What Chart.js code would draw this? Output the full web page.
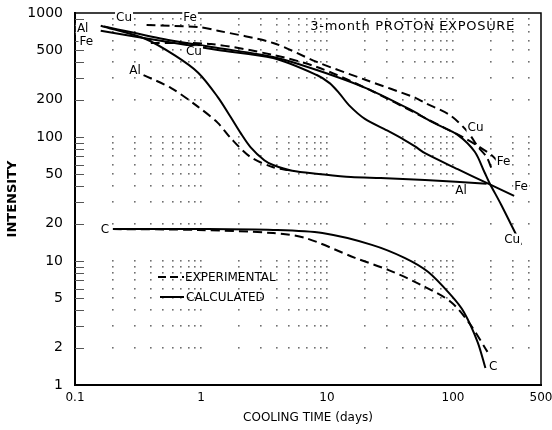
<!DOCTYPE html>
<html>
<head>
<meta charset="utf-8">
<script src="https://cdn.jsdelivr.net/npm/chart.js@4.4.1/dist/chart.umd.min.js"></script>
<style>
  html, body { margin: 0; padding: 0; background: #fff; }
  #wrap { width: 552px; height: 430px; }
</style>
</head>
<body>
<div id="wrap"><canvas id="c" width="552" height="430"></canvas></div>
<script>
// ---- Data ----
const alCalcX = [0.16, 0.36, 0.62, 0.95, 1.36, 1.72, 2.06, 2.47, 3.18, 3.74, 5.3, 8.6, 15.5, 26.7, 60, 185];
const alCalcY = [790, 620, 455, 330, 210, 145, 108, 83, 65, 59.5, 53.4, 50.4, 47.5, 46.6, 45, 42];

const alExpX = [0.35, 0.58, 0.95, 1.36, 1.72, 2.47, 3.74, 5.0];
const alExpY = [316, 248, 175, 130, 98, 69, 57, 54];

const cuCalcX = [0.17, 0.55, 1.36, 3.74, 8.3, 20.4, 50, 60, 76, 109, 149, 178, 195, 242, 348];
const cuCalcY = [780, 606, 522, 442, 347, 248, 159, 142, 125, 104, 76, 52, 42.6, 28.3, 13.5];

const cuExpX = [0.4, 1.2, 3.74, 8.3, 20.4, 60.3, 86.5, 124, 163, 202, 234];
const cuExpY = [573, 562, 459, 367, 248, 142, 118, 98, 83, 71.5, 61.7];

const feCalcX = [0.16, 0.55, 1.36, 3.74, 8.3, 10.5, 12.5, 15, 20, 30, 41, 50, 60, 109, 185, 306];
const feCalcY = [720, 583, 503, 433, 316, 272, 226, 180, 140, 113, 95, 84, 74, 55, 42.6, 33.5];

const feExpX = [0.37, 0.95, 1.36, 3.74, 8.3, 20.4, 50.4, 60.3, 94.7, 131, 157, 185, 202];
const feExpY = [800, 770, 720, 573, 403, 288, 207, 188, 150, 110, 84, 69, 56];

const cCalcX = [0.2, 0.95, 3.74, 9.2, 22.7, 41.3, 63.7, 96.4, 122, 157, 181];
const cCalcY = [18.1, 18.1, 17.8, 16.8, 13.5, 10.6, 8.15, 5.3, 3.88, 2.22, 1.37];

const cExpX = [0.2, 0.95, 3.74, 6.78, 16.7, 30.9, 56.1, 96.4, 138, 188];
const cExpY = [18.1, 17.8, 16.8, 15.3, 10.6, 8.45, 6.4, 4.67, 3.05, 1.85];

// tick values
const xTickValues = [0.1,0.2,0.3,0.4,0.5,0.6,0.7,0.8,0.9,1,2,3,4,5,6,7,8,9,10,20,30,40,50,60,70,80,90,100,200,300,400,500];
const xTickLabels = [0.1, 1, 10, 100, 500];
const yTickValues = [1,2,3,4,5,6,7,8,9,10,20,30,40,50,60,70,80,90,100,200,300,400,500,600,700,800,900,1000];
const yTickLabels = [1, 2, 5, 10, 20, 50, 100, 200, 500, 1000];

// curve labels (text, x value, y value)
const curveLabelText = ['Al','Cu','Fe','Fe','Cu','Al','Cu','Fe','Fe','Al','Cu','C','C'];
const curveLabelX    = [0.115, 0.245, 0.82, 0.123, 0.88, 0.30, 151, 252, 348, 116, 295, 0.173, 209];
const curveLabelY    = [743, 911, 911, 583, 484, 340, 118, 63, 39.6, 36.6, 14.9, 17.8, 1.4];

const titleText = '3-month PROTON EXPOSURE';
const legendText = ['EXPERIMENTAL', 'CALCULATED'];

// ---- helpers ----
const zip = (xs, ys) => xs.map((x, i) => ({ x: x, y: ys[i] }));
const near = (v, arr) => arr.some(a => Math.abs(v - a) / a < 1e-6);
const FONT = "'DejaVu Sans', 'Liberation Sans', sans-serif";

function ds(label, xs, ys, dashed) {
  return {
    label: label,
    data: zip(xs, ys),
    showLine: true,
    borderColor: '#000',
    backgroundColor: '#000',
    borderWidth: 2,
    borderDash: dashed ? [9, 5] : [],
    pointRadius: 0,
    tension: 0.3,
    fill: false
  };
}

const bgPlugin = {
  id: 'bg',
  beforeDraw(chart) {
    const ctx = chart.ctx;
    ctx.save();
    ctx.fillStyle = '#fff';
    ctx.fillRect(0, 0, chart.width, chart.height);
    ctx.restore();
  }
};

const gridDots = {
  id: 'gridDots',
  beforeDatasetsDraw(chart) {
    const ctx = chart.ctx, xs = chart.scales.x, ys = chart.scales.y, a = chart.chartArea;
    ctx.save();
    ctx.fillStyle = '#707070';
    xTickValues.forEach(xv => {
      const px = xs.getPixelForValue(xv);
      if (px <= a.left + 2 || px >= a.right - 2) return;
      yTickValues.forEach(yv => {
        const py = ys.getPixelForValue(yv);
        if (py <= a.top + 2 || py >= a.bottom - 2) return;
        ctx.fillRect(Math.round(px) - 1, Math.round(py) - 1, 1.6, 1.6);
      });
    });
    // short inner ticks on the left axis
    ctx.strokeStyle = '#555';
    ctx.lineWidth = 1;
    yTickValues.forEach(yv => {
      const py = Math.round(ys.getPixelForValue(yv)) + 0.5;
      if (py <= a.top + 2 || py >= a.bottom - 2) return;
      ctx.beginPath();
      ctx.moveTo(a.left, py);
      ctx.lineTo(a.left + 9, py);
      ctx.stroke();
    });
    // frame (top and right)
    ctx.strokeStyle = '#000';
    ctx.lineWidth = 1.5;
    ctx.beginPath();
    ctx.moveTo(a.left, a.top);
    ctx.lineTo(a.right, a.top);
    ctx.lineTo(a.right, a.bottom);
    ctx.stroke();
    ctx.restore();
  }
};

const annot = {
  id: 'annot',
  afterDatasetsDraw(chart) {
    const ctx = chart.ctx, xs = chart.scales.x, ys = chart.scales.y, a = chart.chartArea;
    ctx.save();
    ctx.fillStyle = '#000';
    ctx.textAlign = 'center';
    ctx.textBaseline = 'middle';
    ctx.font = '12px ' + FONT;
    curveLabelText.forEach((t, i) => {
      const px = xs.getPixelForValue(curveLabelX[i]);
      const py = ys.getPixelForValue(curveLabelY[i]);
      const w = ctx.measureText(t).width;
      ctx.fillStyle = '#fff';
      ctx.fillRect(px - w / 2 - 1, py - 6, w + 2, 12);
      ctx.fillStyle = '#000';
      ctx.fillText(t, px, py);
    });
    // title
    ctx.font = '13px ' + FONT;
    try { ctx.letterSpacing = '0.7px'; } catch (e) {}
    ctx.textAlign = 'right';
    ctx.fillText(titleText, a.right - 26, a.top + 14);
    try { ctx.letterSpacing = '0px'; } catch (e) {}
    // legend
    ctx.font = '12px ' + FONT;
    ctx.textAlign = 'left';
    ctx.lineWidth = 2;
    ctx.strokeStyle = '#000';
    const lx = a.left + 83, ly1 = a.top + 264, ly2 = a.top + 284;
    ctx.setLineDash([8, 4]);
    ctx.beginPath(); ctx.moveTo(lx, ly1); ctx.lineTo(lx + 26, ly1); ctx.stroke();
    ctx.setLineDash([]);
    ctx.beginPath(); ctx.moveTo(lx + 2, ly2); ctx.lineTo(lx + 26, ly2); ctx.stroke();
    ctx.fillText(legendText[0], lx + 27, ly1 + 1);
    ctx.fillText(legendText[1], lx + 28, ly2 + 1);
    ctx.restore();
  }
};

new Chart(document.getElementById('c'), {
  type: 'scatter',
  data: {
    datasets: [
      ds('Al calculated', alCalcX, alCalcY, false),
      ds('Al experimental', alExpX, alExpY, true),
      ds('Cu calculated', cuCalcX, cuCalcY, false),
      ds('Cu experimental', cuExpX, cuExpY, true),
      ds('Fe calculated', feCalcX, feCalcY, false),
      ds('Fe experimental', feExpX, feExpY, true),
      ds('C calculated', cCalcX, cCalcY, false),
      ds('C experimental', cExpX, cExpY, true)
    ]
  },
  options: {
    responsive: false,
    animation: false,
    events: [],
    layout: { padding: { top: 13, right: 11, left: 0, bottom: 0 } },
    plugins: { legend: { display: false }, tooltip: { enabled: false } },
    scales: {
      x: {
        type: 'logarithmic',
        min: 0.1,
        max: 500,
        afterBuildTicks(scale) { scale.ticks = xTickValues.map(v => ({ value: v })); },
        afterFit(scale) { scale.height = 45; scale.paddingLeft = 0; scale.paddingRight = 0; },
        ticks: {
          autoSkip: false,
          maxRotation: 0,
          padding: 6,
          color: '#000',
          font: { family: FONT, size: 12 },
          callback: (v) => near(v, xTickLabels) ? String(+v.toPrecision(6)) : ''
        },
        grid: { drawOnChartArea: false, drawTicks: false },
        border: { display: true, color: '#000', width: 2 },
        title: {
          display: true,
          text: 'COOLING TIME (days)',
          color: '#000',
          font: { family: FONT, size: 12 },
          padding: { top: 0, bottom: 5 }
        }
      },
      y: {
        type: 'logarithmic',
        min: 1,
        max: 1000,
        afterBuildTicks(scale) { scale.ticks = yTickValues.map(v => ({ value: v })); },
        afterFit(scale) { scale.width = 75; scale.paddingTop = 0; scale.paddingBottom = 0; },
        ticks: {
          autoSkip: false,
          padding: 12,
          color: '#000',
          font: { family: FONT, size: 14 },
          callback: (v) => near(v, yTickLabels) ? String(+v.toPrecision(6)) : ''
        },
        grid: { drawOnChartArea: false, drawTicks: false },
        border: { display: true, color: '#000', width: 2 },
        title: {
          display: true,
          text: 'INTENSITY',
          color: '#000',
          font: { family: FONT, size: 13, weight: 'bold' },
          padding: { top: 5, bottom: 0 }
        }
      }
    }
  },
  plugins: [bgPlugin, gridDots, annot]
});
</script>
</body>
</html>
